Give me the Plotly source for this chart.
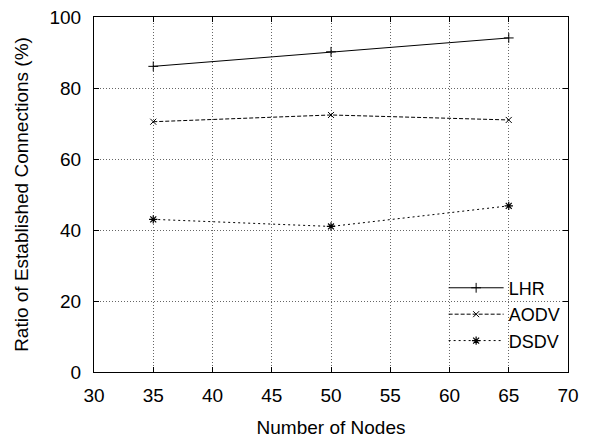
import plotly.graph_objects as go

nodes = [35, 50, 65]
lhr = [86.1, 90.2, 94.1]
aodv = [70.5, 72.4, 71.0]
dsdv = [43.0, 41.0, 46.8]
x_ticks = [30, 35, 40, 45, 50, 55, 60, 65, 70]
y_ticks = [0, 20, 40, 60, 80, 100]

fig = go.Figure()
fig.add_trace(go.Scatter(x=nodes, y=lhr, name="LHR", mode="lines+markers",
                         line=dict(color="black", width=1, dash="solid"),
                         marker=dict(symbol="cross-thin-open", size=7, color="black", line=dict(width=1, color="black"))))
fig.add_trace(go.Scatter(x=nodes, y=aodv, name="AODV", mode="lines+markers",
                         line=dict(color="black", width=1, dash="4px,2px"),
                         marker=dict(symbol="x-thin-open", size=6, color="black", line=dict(width=1, color="black"))))
fig.add_trace(go.Scatter(x=nodes, y=dsdv, name="DSDV", mode="lines+markers",
                         line=dict(color="black", width=1, dash="2px,3px"),
                         marker=dict(symbol="asterisk-open", size=7, color="black", line=dict(width=1.2, color="black"))))

font = dict(family="Liberation Sans, Arial, sans-serif", size=19, color="black")
grid = dict(showgrid=True, gridcolor="#666", griddash="1px,2px", gridwidth=1,
            showline=True, linecolor="black", linewidth=1, mirror="ticks",
            ticks="inside", ticklen=5, tickcolor="black", zeroline=False,
            automargin=False)
fig.update_layout(
    width=613, height=441,
    margin=dict(l=94, r=45, t=17, b=69),
    paper_bgcolor="white", plot_bgcolor="white",
    font=font,
    showlegend=True,
    legend=dict(x=0.995, y=0.035, xanchor="right", yanchor="bottom",
                bgcolor="rgba(0,0,0,0)", font=dict(size=18), tracegroupgap=0,
                itemwidth=55),
    xaxis=dict(range=[30, 70], tickvals=x_ticks, ticklabelstandoff=6,
               title=dict(text="Number of Nodes", font=dict(size=19), standoff=15), **grid),
    yaxis=dict(range=[0, 100], tickvals=y_ticks, ticklabelstandoff=8,
               title=dict(text="Ratio of Established Connections (%)", font=dict(size=19), standoff=15), **grid),
)
fig.write_html("out.html", config={"displayModeBar": False},
               post_script="document.body.style.margin='0';")
